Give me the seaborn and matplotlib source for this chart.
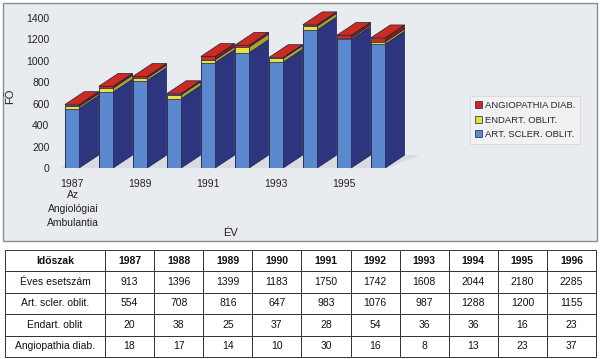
import matplotlib
matplotlib.use("Agg")
import matplotlib.pyplot as plt
from matplotlib.patches import Polygon, Rectangle
import seaborn as sns
import pandas as pd
import numpy as np

years = ["1987", "1988", "1989", "1990", "1991", "1992", "1993", "1994", "1995", "1996"]
eves = [913, 1396, 1399, 1183, 1750, 1742, 1608, 2044, 2180, 2285]
art_scler = [554, 708, 816, 647, 983, 1076, 987, 1288, 1200, 1155]
endart = [20, 38, 25, 37, 28, 54, 36, 36, 16, 23]
angio = [18, 17, 14, 10, 30, 16, 8, 13, 23, 37]
xtick_labels = ["1987", "", "1989", "", "1991", "", "1993", "", "1995", ""]
row_labels = ["Éves esetszám", "Art. scler. oblit.", "Endart. oblit", "Angiopathia diab."]
legend_labels = ["ANGIOPATHIA DIAB.", "ENDART. OBLIT.", "ART. SCLER. OBLIT."]

sns.set_theme(style="white")
plt.rcParams["font.family"] = ["Liberation Sans", "DejaVu Sans"]

RED, YEL, BLUE = "#cf2a1e", "#e6e23a", "#5b88cf"
RED_D, YEL_D, BLUE_D = "#8e1a14", "#a9a52a", "#2e357f"
EDGE = "#1c1f4a"

df = pd.DataFrame({"year": years, "art": art_scler, "endart": endart, "angio": angio})
df["l2"] = df["art"] + df["endart"]
df["total"] = df["l2"] + df["angio"]

fig = plt.figure(figsize=(6.0, 3.59), dpi=100)
fig.patch.set_facecolor("white")
# chart panel background
fig.patches.append(Rectangle((3 / 600, 1 - 241 / 359), 594 / 600, 238 / 359,
                             transform=fig.transFigure, facecolor="#e9ecef",
                             edgecolor="#8a8d90", lw=1.0, zorder=-10))

# axes: x px = 72 + 34*i ; y: 0 at px 168, 1400 at px 18
x_left_px, x_right_px = 55, 420
xl = (x_left_px - 72) / 34
xr = (x_right_px - 72) / 34
ytop = 1550
top_px = 168 - ytop / 1400 * 150
ax = fig.add_axes([x_left_px / 600, 1 - 168 / 359, (x_right_px - x_left_px) / 600,
                   (168 - top_px) / 359])
ax.set_facecolor("none")
ax.set_zorder(5)

w = 0.42
sns.barplot(data=df, x="year", y="total", color=RED, width=w, saturation=1,
            edgecolor=EDGE, linewidth=0.5, ax=ax, zorder=3)
sns.barplot(data=df, x="year", y="l2", color=YEL, width=w, saturation=1,
            edgecolor=EDGE, linewidth=0.5, ax=ax, zorder=3)
sns.barplot(data=df, x="year", y="art", color=BLUE, width=w, saturation=1,
            edgecolor=EDGE, linewidth=0.5, ax=ax, zorder=3)

dx = 0.57
dy = 120
# floor
ax.add_patch(Polygon([(-0.35, 0), (9.3, 0), (9.3 + dx + 0.35, dy), (-0.35 + dx, dy)],
                     closed=True, facecolor="#d8dbdf", edgecolor="none", zorder=1))

reds, yels, blues = ax.containers[0], ax.containers[1], ax.containers[2]
for i in range(len(years)):
    pr, py, pb = reds[i], yels[i], blues[i]
    xr_ = pb.get_x() + pb.get_width()
    xl_ = pb.get_x()
    segs = [(0, pb.get_height(), BLUE_D), (pb.get_height(), py.get_height(), YEL_D),
            (py.get_height(), pr.get_height(), RED_D)]
    for y0, y1, c in segs:
        ax.add_patch(Polygon([(xr_, y0), (xr_ + dx, y0 + dy), (xr_ + dx, y1 + dy), (xr_, y1)],
                             closed=True, facecolor=c, edgecolor=EDGE, lw=0.5, zorder=2.5,
                             clip_on=False))
    t = pr.get_height()
    ax.add_patch(Polygon([(xl_, t), (xr_, t), (xr_ + dx, t + dy), (xl_ + dx, t + dy)],
                         closed=True, facecolor=RED, edgecolor=EDGE, lw=0.5, zorder=2.6,
                         clip_on=False))

ax.set_xlim(xl, xr)
ax.set_ylim(0, ytop)
ax.set_yticks(range(0, 1401, 200))
ax.set_yticklabels([str(v) for v in range(0, 1401, 200)], fontsize=7.5, color="#222222")
ax.set_xticks(range(len(years)))
ax.set_xticklabels(xtick_labels, fontsize=7.5, color="#222222")
ax.tick_params(axis="both", length=0, pad=4)
ax.tick_params(axis="x", pad=8)
for s in ax.spines.values():
    s.set_visible(False)
ax.set_xlabel("")
ax.set_ylabel("")

fig.text(73 / 600, 1 - 209 / 359, "Az\nAngiológiai\nAmbulantia", ha="center", va="center",
         fontsize=7.5, color="#222222", linespacing=1.45)
fig.text(231 / 600, 1 - 233 / 359, "ÉV", ha="center", va="center", fontsize=8, color="#222222")
fig.text(10 / 600, 1 - 96 / 359, "FŐ", ha="center", va="center", rotation=90, fontsize=8,
         color="#222222")

handles = [Rectangle((0, 0), 1, 1, facecolor=c, edgecolor=EDGE, lw=0.5) for c in (RED, YEL, BLUE)]
leg = fig.legend(handles, legend_labels, loc="center left",
                 bbox_to_anchor=(468 / 600, 1 - 120 / 359), fontsize=6.8, frameon=True,
                 handlelength=0.8, handleheight=0.8, handletextpad=0.3, labelspacing=0.6,
                 borderpad=0.5, borderaxespad=0.2, fancybox=False)
leg.get_frame().set_facecolor("#f1f3f5")
leg.get_frame().set_edgecolor("#d0d3d6")
leg.get_frame().set_linewidth(0.6)

# table
tax = fig.add_axes([5 / 600, 1 - 357 / 359, 591 / 600, 107 / 359])
tax.axis("off")
cell_text = []
for lab, vals in zip(row_labels, [eves, art_scler, endart, angio]):
    cell_text.append([lab] + [str(v) for v in vals])
col_labels = ["Időszak"] + years
cw0 = 100 / 591
cw = (1 - cw0) / 10
tbl = tax.table(cellText=cell_text, colLabels=col_labels, bbox=[0, 0, 1, 1],
                colWidths=[cw0] + [cw] * 10, cellLoc="center")
tbl.auto_set_font_size(False)
tbl.set_fontsize(7.5)
for (r, c), cell in tbl.get_celld().items():
    cell.set_edgecolor("#333333")
    cell.set_linewidth(0.7)
    cell.set_facecolor("white")
    cell.get_text().set_color("#111111")
    if r == 0:
        cell.get_text().set_fontweight("bold")

fig.savefig("out.png", dpi=100)
